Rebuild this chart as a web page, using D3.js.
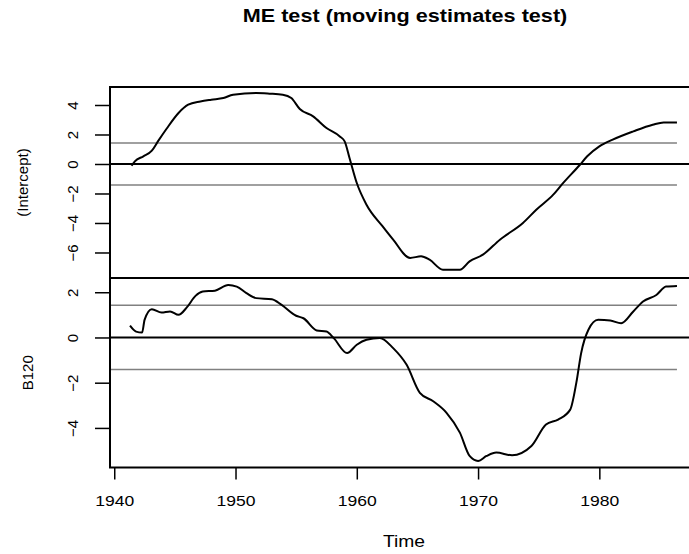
<!DOCTYPE html>
<html>
<head>
<meta charset="utf-8">
<script src="https://cdn.jsdelivr.net/npm/d3@7"></script>
<style>
  body { margin: 0; background: #fff; }
  svg { display: block; font-family: "Liberation Sans", Arial, sans-serif; }
</style>
</head>
<body>
<svg id="chart"></svg>
<script>
const width = 689;
const height = 554;

// moving estimates
const interceptYears = [1941.43, 1941.7, 1942.4, 1943.1, 1943.6, 1944.3, 1945.3, 1946.1, 1947.1, 1948.0,
  1949.0, 1949.8, 1951.7, 1952.8, 1953.9, 1954.6, 1955.3, 1956.4, 1957.5, 1958.6, 1959.0, 1959.4,
  1960.0, 1960.8, 1962.1, 1963.0, 1964.4, 1965.3, 1966.0, 1967.1, 1968.5, 1969.3, 1970.4, 1971.8,
  1973.7, 1974.8, 1976.2, 1976.9, 1978.4, 1979.0, 1980.0, 1981.1, 1982.8, 1984.4, 1985.3, 1986.4];
const interceptValues = [-0.12, 0.18, 0.52, 0.9, 1.53, 2.37, 3.46, 4.02, 4.24, 4.36,
  4.47, 4.7, 4.81, 4.77, 4.7, 4.47, 3.73, 3.23, 2.44, 1.87, 1.53, 0.41,
  -1.29, -2.76, -4.2, -5.13, -6.37, -6.26, -6.49, -7.17, -7.17, -6.6, -6.15, -5.13,
  -4.0, -3.1, -2.08, -1.4, -0.05, 0.52, 1.19, 1.65, 2.21, 2.66, 2.82, 2.82];

const b120Years = [1941.3, 1941.8, 1942.3, 1942.5, 1943.1, 1943.9, 1944.6, 1945.3, 1946.0, 1946.7,
  1947.3, 1948.3, 1949.4, 1950.1, 1950.9, 1951.7, 1953.0, 1953.8, 1955.0, 1955.6, 1956.7, 1957.5,
  1958.1, 1959.2, 1960.0, 1960.8, 1961.9, 1963.0, 1964.1, 1965.2, 1966.3, 1967.4, 1968.5, 1969.3,
  1970.0, 1970.7, 1971.5, 1972.8, 1974.4, 1975.6, 1976.6, 1977.6, 1978.1, 1978.5, 1979.1, 1979.9,
  1980.9, 1981.8, 1982.8, 1983.6, 1984.7, 1985.5, 1986.4];
const b120Values = [0.52, 0.26, 0.22, 0.78, 1.25, 1.1, 1.15, 1.0, 1.34, 1.84,
  2.03, 2.07, 2.32, 2.25, 1.96, 1.74, 1.69, 1.44, 0.96, 0.85, 0.31, 0.26,
  -0.03, -0.69, -0.32, -0.1, -0.02, -0.47, -1.2, -2.45, -2.82, -3.33, -4.21, -5.24,
  -5.46, -5.24, -5.09, -5.21, -4.8, -3.85, -3.63, -3.19, -2.01, -0.69, 0.34, 0.78,
  0.75, 0.63, 1.15, 1.59, 1.88, 2.25, 2.28];

const boundary = 1.42;
const boundaryEnd = 1986.4;

const xTicks = [1940, 1950, 1960, 1970, 1980];
const interceptTicks = [-6, -4, -2, 0, 2, 4];
const b120Ticks = [-4, -2, 0, 2];

const titleText = "ME test (moving estimates test)";
const xLabel = "Time";

const left = 110, right = 700;
const stretch = 1.17; // picture is a bit wider than tall

const x = d3.scaleLinear().domain([1939.65, 1988.3]).range([left, right]);

const panels = [
  {label: "(Intercept)", years: interceptYears, values: interceptValues, ticks: interceptTicks,
   y: d3.scaleLinear().domain([-7.73, 5.22]).range([278, 87]), labelX: 28},
  {label: "B120", years: b120Years, values: b120Values, ticks: b120Ticks,
   y: d3.scaleLinear().domain([-5.75, 2.63]).range([467.5, 278]), labelX: 33}
];

const svg = d3.select("#chart")
  .attr("width", width)
  .attr("height", height);

const fmt = d => d < 0 ? "\u2212" + Math.abs(d) : String(d);

panels.forEach(p => {
  const [y0, y1] = p.y.range();

  // boundaries
  svg.selectAll(null)
    .data([boundary, -boundary]).enter().append("line")
    .attr("x1", left).attr("x2", x(boundaryEnd))
    .attr("y1", d => p.y(d)).attr("y2", d => p.y(d))
    .attr("stroke", "#808080").attr("stroke-width", 1.5);

  // zero line
  svg.append("line")
    .attr("x1", left).attr("x2", right)
    .attr("y1", p.y(0)).attr("y2", p.y(0))
    .attr("stroke", "#000").attr("stroke-width", 2);

  const line = d3.line()
    .x((d, i) => x(p.years[i]))
    .y(d => p.y(d))
    .curve(d3.curveMonotoneX);

  svg.append("path")
    .attr("d", line(p.values))
    .attr("fill", "none")
    .attr("stroke", "#000")
    .attr("stroke-width", 2);

  // box
  svg.append("rect")
    .attr("x", left).attr("y", y1)
    .attr("width", right - left).attr("height", y0 - y1)
    .attr("fill", "none").attr("stroke", "#000").attr("stroke-width", 2);

  const ax = svg.append("g")
    .attr("transform", `translate(${left},0)`)
    .call(d3.axisLeft(p.y).tickValues(p.ticks).tickSize(15).tickFormat(fmt));
  ax.select(".domain").remove();
  ax.selectAll("line").attr("stroke-width", 1.5);
  ax.selectAll("text")
    .attr("x", null).attr("dy", null)
    .attr("transform", "translate(-32,0) rotate(-90)")
    .attr("text-anchor", "middle")
    .attr("font-size", 15)
    .attr("font-family", null)
    .attr("fill", "#000");

  svg.append("text")
    .attr("transform", `translate(${p.labelX},${(y0 + y1) / 2}) rotate(-90)`)
    .attr("text-anchor", "middle")
    .attr("font-size", 15)
    .text(p.label);
});

const xa = svg.append("g")
  .attr("transform", "translate(0,467.5)")
  .call(d3.axisBottom(x).tickValues(xTicks).tickSize(12).tickFormat(d3.format("d")));
xa.select(".domain").remove();
xa.selectAll("line").attr("stroke-width", 1.5);
xa.selectAll("text")
  .attr("y", null).attr("dy", null)
  .attr("transform", `translate(0,38.5) scale(${stretch},1)`)
  .attr("font-size", 15)
  .attr("font-family", null)
  .attr("fill", "#000");

svg.append("text")
  .attr("transform", `translate(404,546.5) scale(${stretch},1)`)
  .attr("text-anchor", "middle")
  .attr("font-size", 16.5)
  .text(xLabel);

svg.append("text")
  .attr("transform", `translate(405,21.7) scale(${stretch},1)`)
  .attr("text-anchor", "middle")
  .attr("font-size", 18.5)
  .attr("font-weight", "bold")
  .text(titleText);
</script>
</body>
</html>
